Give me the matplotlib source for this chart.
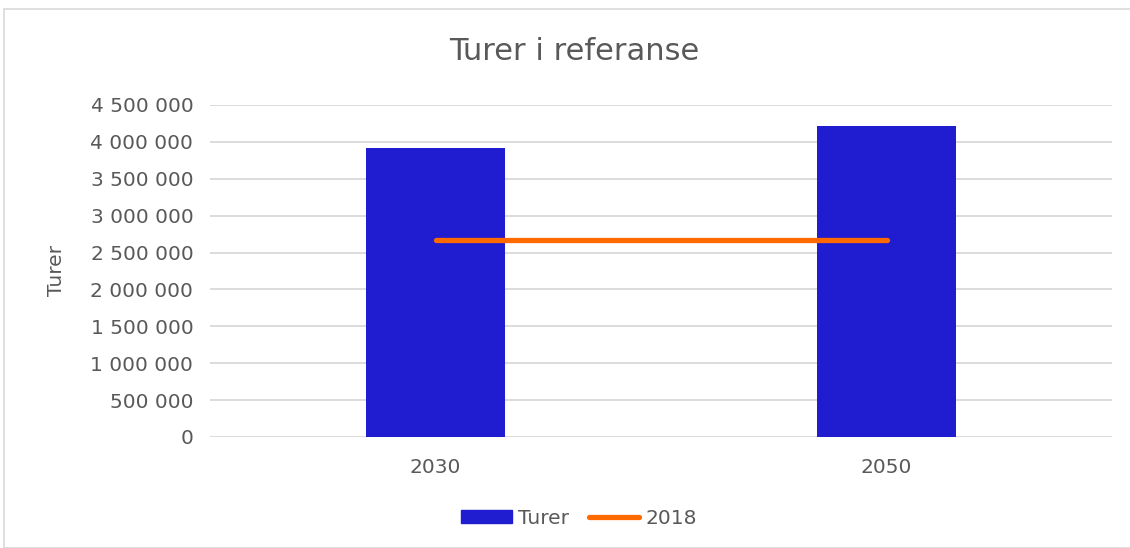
import matplotlib.pyplot as plt
import matplotlib.ticker as mticker
from matplotlib.patches import Rectangle
from matplotlib.lines import Line2D
import numpy as np

# data
years = ['2030', '2050']
turer = [3917000, 4215000]
ref_2018 = [2670000, 2670000]
yticks = np.arange(0, 4500001, 500000)

plt.rcParams['font.family'] = ['DejaVu Sans']
grey = '#595959'

fig = plt.figure(figsize=(11.3, 5.48), dpi=100)
fig.patches.append(Rectangle((4/1130, 0), 1.1, 1-9/548, transform=fig.transFigure,
                             fill=False, edgecolor='#d9d9d9', linewidth=1.2))
ax = fig.add_axes([210/1130, 1-437/548, 902/1130, 332/548])

x = np.arange(len(years))
ax.bar(x, turer, width=0.31, color='#201cd0', zorder=2, label='Turer')
ax.plot(x, ref_2018, color='#ff6a00', linewidth=3.8, solid_capstyle='round', zorder=3, label='2018')

ax.set_xlim(-0.5, 1.5)
ax.set_ylim(0, 4500000)
ax.set_yticks(yticks)
ax.yaxis.set_major_formatter(mticker.FuncFormatter(lambda v, p: f'{int(v):,}'.replace(',', ' ')))
ax.set_xticks(x)
ax.set_xticklabels(years)
ax.grid(axis='y', color='#d9d9d9', linewidth=1.3, zorder=0)
for s in ax.spines.values():
    s.set_visible(False)
ax.tick_params(length=0, labelsize=14.5, colors=grey)
ax.tick_params(axis='y', pad=12)
ax.tick_params(axis='x', pad=15)

fig.text(57/1130, 1-271/548, 'Turer', rotation=90, ha='center', va='center',
         fontsize=14.5, color=grey)
fig.text(574/1130, 1-51/548, 'Turer i referanse', ha='center', va='center',
         fontsize=22, color=grey)

handles = [Rectangle((0, 0), 1, 1, color='#201cd0'),
           Line2D([0], [0], color='#ff6a00', linewidth=3.8, solid_capstyle='round')]
fig.legend(handles, ['Turer', '2018'], loc='center', bbox_to_anchor=(579/1130, 1-518/548),
           ncol=2, frameon=False, fontsize=14.5, labelcolor=grey,
           handlelength=2.5, handleheight=0.6, handletextpad=0.3, columnspacing=1.0)

fig.savefig('out.png', dpi=100)
